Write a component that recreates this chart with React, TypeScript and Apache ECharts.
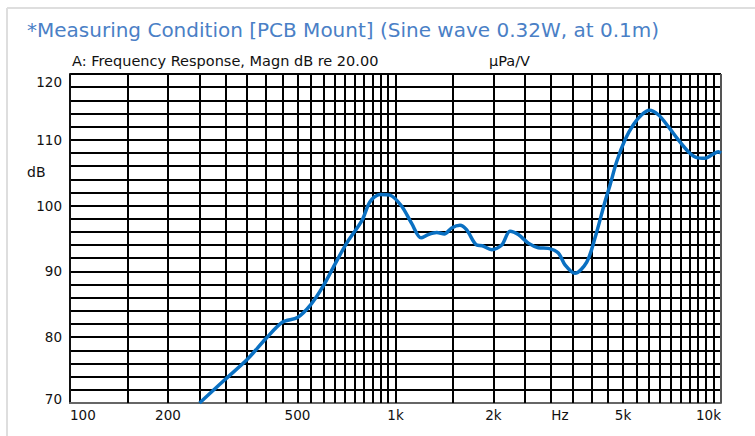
import React, { useEffect, useRef } from 'react';
import * as echarts from 'echarts';

const FONT = '"DejaVu Sans", Verdana, sans-serif';

// Frequency response curve (Hz, dB)
const freqHz = [
  250, 300, 350, 400, 450, 500, 550, 600, 650, 708, 790, 835, 896, 962,
  1045, 1121, 1198, 1261, 1339, 1413, 1488, 1578, 1655, 1776, 1848, 1975,
  2120, 2248, 2384, 2559, 2747, 2948, 3164, 3317, 3561, 3868, 4102, 4401,
  4560, 4782, 5072, 5378, 5706, 6023, 6419, 6889, 7393, 7934, 8420, 8929,
  9363, 9811, 10000,
];
const levelDb = [
  70.0, 73.6, 76.6, 79.8, 82.3, 83.0, 85.0, 87.8, 91.0, 94.3, 97.8, 100.6, 101.7, 101.6,
  99.9, 97.3, 95.1, 95.6, 95.9, 95.7, 96.6, 97.0, 96.3, 94.0, 93.9, 93.3,
  94.0, 96.1, 95.6, 94.3, 93.6, 93.5, 92.8, 91.0, 89.7, 91.4, 95.1, 100.6,
  103.1, 106.7, 110.0, 112.3, 113.8, 114.5, 113.8, 112.0, 110.0, 108.2, 107.3, 107.2,
  107.7, 108.2, 108.0,
];

// Vertical grid lines (Hz)
const xGridHz = [
  150, 200, 250, 300, 350, 400, 450, 500, 550, 600, 650, 700, 750, 800, 850, 900, 950, 1000,
  1500, 2000, 2500, 3000, 3500, 4000, 4500, 5000, 5500, 6000, 6500, 7000, 7500, 8000, 8500, 9000, 9500,
];
const xEdgeHz = [10000];

// X tick labels
const xLabelHz = [100, 200, 500, 1000, 2000, 3200, 5000, 10000];
const xLabelText = ['100', '200', '500', '1k', '2k', 'Hz', '5k', '10k'];

// Y tick labels
const yLabelDb = [70, 80, 90, 100, 110, 120];

const titleText = '*Measuring Condition [PCB Mount] (Sine wave 0.32W, at 0.1m)';
const headerText = 'A: Frequency Response, Magn dB re 20.00';
const unitText = 'µPa/V';
const yUnitText = 'dB';

export default function App() {
  const ref = useRef<HTMLDivElement>(null);

  useEffect(() => {
    const chart = echarts.init(ref.current!, null, { renderer: 'svg' });
    const xLabelLog = xLabelHz.map((v) => Math.log10(v));
    chart.setOption({
      animation: false,
      backgroundColor: '#ffffff',
      title: {
        text: titleText,
        left: 27,
        top: 20,
        padding: 0,
        textStyle: {
          color: '#4a80c6',
          fontSize: 20,
          fontWeight: 'normal',
          fontFamily: FONT,
        },
      },
      grid: { left: 70, right: 34, top: 74, bottom: 33 },
      xAxis: [
        {
          type: 'log',
          logBase: 10,
          min: 100,
          max: 10000,
          position: 'bottom',
          axisLine: { show: false },
          axisTick: { show: false },
          axisLabel: { show: false },
          splitLine: { show: false },
        },
        {
          type: 'value',
          min: 2,
          max: 4,
          position: 'bottom',
          axisLine: { show: true, lineStyle: { color: '#666', width: 2 } },
          axisTick: { show: false },
          splitLine: { show: false },
          axisLabel: {
            customValues: xLabelLog,
            margin: 5,
            color: '#111',
            fontSize: 13.5,
            fontFamily: FONT,
            alignMinLabel: 'left',
            alignMaxLabel: 'right',
            formatter: (v: number) => {
              let best = 0;
              for (let i = 0; i < xLabelLog.length; i++) {
                if (Math.abs(xLabelLog[i] - v) < Math.abs(xLabelLog[best] - v)) best = i;
              }
              return xLabelText[best];
            },
          },
        },
      ],
      yAxis: {
        type: 'value',
        min: 70,
        max: 120,
        interval: 2,
        axisLine: { show: true, lineStyle: { color: '#111', width: 2 } },
        axisTick: { show: false },
        splitLine: { show: true, lineStyle: { color: '#000', width: 2 } },
        axisLabel: {
          customValues: yLabelDb,
          margin: 8,
          color: '#111',
          fontSize: 13.5,
          fontFamily: FONT,
          formatter: (v: number) => {
            if (v === 120) return '{top|120}';
            if (v === 70) return '{bot|70}';
            return String(v);
          },
          rich: {
            top: { fontSize: 13.5, fontFamily: FONT, color: '#111', padding: [16, 0, 0, 0] },
            bot: { fontSize: 13.5, fontFamily: FONT, color: '#111', padding: [0, 0, 8, 0] },
          },
        },
      },
      graphic: [
        {
          type: 'line',
          shape: { x1: 7, y1: 8, x2: 755, y2: 8 },
          style: { stroke: '#dedede', lineWidth: 2 },
          silent: true,
        },
        {
          type: 'line',
          shape: { x1: 7, y1: 8, x2: 7, y2: 436 },
          style: { stroke: '#dedede', lineWidth: 2 },
          silent: true,
        },
        {
          type: 'text',
          x: 72,
          y: 61,
          style: {
            text: headerText,
            fill: '#111',
            font: `14.5px ${FONT}`,
            textVerticalAlign: 'middle',
          },
        },
        {
          type: 'text',
          x: 489,
          y: 61,
          style: {
            text: unitText,
            fill: '#111',
            font: `14.5px ${FONT}`,
            textVerticalAlign: 'middle',
          },
        },
        {
          type: 'text',
          x: 27,
          y: 172,
          style: {
            text: yUnitText,
            fill: '#111',
            font: `14px ${FONT}`,
            textVerticalAlign: 'middle',
          },
        },
      ],
      series: [
        {
          type: 'line',
          xAxisIndex: 0,
          data: [],
          z: 1,
          silent: true,
          markLine: {
            silent: true,
            symbol: ['none', 'none'],
            label: { show: false },
            lineStyle: { color: '#000', width: 2, type: 'solid' },
            data: [
              ...xGridHz.map((v) => ({ xAxis: v })),
              ...xEdgeHz.map((v) => ({ xAxis: v, lineStyle: { color: '#555', width: 2, type: 'solid' } })),
            ],
          },
        },
        {
          type: 'line',
          xAxisIndex: 0,
          z: 5,
          data: freqHz.map((f, i) => [f, levelDb[i]]),
          showSymbol: false,
          smooth: 0.3,
          lineStyle: { color: '#0a70c2', width: 3.5 },
          itemStyle: { color: '#0a70c2' },
        },
      ],
    });
    return () => chart.dispose();
  }, []);

  return (
    <div
      ref={ref}
      style={{ position: 'absolute', left: 0, top: 0, width: 755, height: 436 }}
    />
  );
}
